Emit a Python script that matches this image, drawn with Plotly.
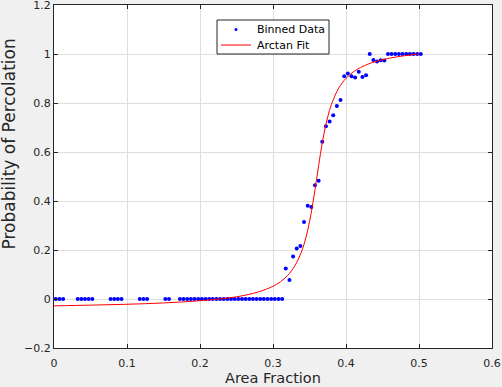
import plotly.graph_objects as go

# Binned data (bin centres, probability)
bin_x = [0.0025, 0.0075, 0.0125,
         0.0325, 0.0375, 0.0425, 0.0475, 0.0525,
         0.0775, 0.0825, 0.0875, 0.0925,
         0.1175, 0.1225, 0.1275,
         0.1525, 0.1575,
         0.1725, 0.1775, 0.1825, 0.1875, 0.1925, 0.1975, 0.2025, 0.2075, 0.2125, 0.2175,
         0.2225, 0.2275, 0.2325, 0.2375, 0.2425, 0.2475, 0.2525, 0.2575, 0.2625, 0.2675,
         0.2725, 0.2775, 0.2825, 0.2875, 0.2925, 0.2975, 0.3025, 0.3075, 0.3125,
         0.3175, 0.3225, 0.3275, 0.3325, 0.3375, 0.3425, 0.3475, 0.3525, 0.3575, 0.3625,
         0.3675, 0.3725, 0.3775, 0.3825, 0.3875, 0.3925, 0.3975, 0.4025, 0.4075, 0.4125,
         0.4175, 0.4225, 0.4275, 0.4325, 0.4375, 0.4425, 0.4475, 0.4525,
         0.4575, 0.4625, 0.4675, 0.4725, 0.4775, 0.4825, 0.4875, 0.4925, 0.4975, 0.5025]
bin_y = [0, 0, 0,
         0, 0, 0, 0, 0,
         0, 0, 0, 0,
         0, 0, 0,
         0, 0,
         0, 0, 0, 0, 0, 0, 0, 0, 0, 0,
         0, 0, 0, 0, 0, 0, 0, 0, 0, 0,
         0, 0, 0, 0, 0, 0, 0, 0, 0,
         0.124, 0.078, 0.173, 0.206, 0.216, 0.314, 0.381, 0.376, 0.464, 0.483,
         0.642, 0.705, 0.724, 0.750, 0.788, 0.812, 0.909, 0.920, 0.909, 0.904,
         0.928, 0.906, 0.913, 1.0, 0.976, 0.969, 0.974, 0.973,
         1.0, 1.0, 1.0, 1.0, 1.0, 1.0, 1.0, 1.0, 1.0, 1.0]

# Arctan fit curve
fit_x = [0, 0.05, 0.1, 0.15, 0.2, 0.25, 0.28, 0.3, 0.31, 0.32, 0.33, 0.34, 0.345,
         0.35, 0.355, 0.36, 0.365, 0.37, 0.375, 0.38, 0.39, 0.4, 0.41, 0.42,
         0.43, 0.44, 0.46, 0.48, 0.5]
fit_y = [-0.028, -0.025, -0.0215, -0.016, -0.007, 0.009, 0.029, 0.052, 0.070,
         0.096, 0.1355, 0.2006, 0.2496, 0.3147, 0.398, 0.495, 0.5927, 0.6774,
         0.7439, 0.7941, 0.8604, 0.9007, 0.9268, 0.9451, 0.9584, 0.9686,
         0.9831, 0.9929, 0.9999]

x_ticks = [0, 0.1, 0.2, 0.3, 0.4, 0.5, 0.6]
y_ticks = [-0.2, 0, 0.2, 0.4, 0.6, 0.8, 1, 1.2]

series_names = ["Binned Data", "Arctan Fit"]
BLUE = "#0000ff"
RED = "#ff0000"
INK = "#262626"
FONT = "DejaVu Sans"

fig = go.Figure()
fig.add_trace(go.Scatter(x=bin_x, y=bin_y, mode="markers", name=series_names[0],
                         marker=dict(color=BLUE, size=4), showlegend=False))
fig.add_trace(go.Scatter(x=fit_x, y=fit_y, mode="lines", name=series_names[1],
                         line=dict(color=RED, width=1, shape="spline"),
                         showlegend=False))

axis_common = dict(
    showline=True, linecolor=INK, linewidth=1, mirror="ticks",
    ticks="inside", ticklen=4, tickcolor=INK,
    showgrid=True, gridcolor="#dedede", gridwidth=1,
    zeroline=False, automargin=False, ticklabeloverflow="allow",
    tickfont=dict(family=FONT, size=11, color=INK),
)

W, H = 502, 387
L, R, T, B = 54, 10, 5, 39
pw, ph = W - L - R, H - T - B


def px_x(p):
    return (p - L) / pw


def px_y(p):
    return (H - B - p) / ph


# Manual MATLAB-style legend box
shapes = [
    dict(type="rect", xref="paper", yref="paper",
         x0=px_x(217), x1=px_x(329), y0=px_y(54), y1=px_y(20),
         line=dict(color=INK, width=1), fillcolor="#ffffff", layer="above"),
    dict(type="line", xref="paper", yref="paper",
         x0=px_x(221), x1=px_x(251), y0=px_y(45), y1=px_y(45),
         line=dict(color=RED, width=1), layer="above"),
    dict(type="circle", xref="paper", yref="paper",
         x0=px_x(234.5), x1=px_x(237.5), y0=px_y(31), y1=px_y(28),
         line=dict(color=BLUE, width=0), fillcolor=BLUE, layer="above"),
]
annotations = [
    dict(text=series_names[0], xref="paper", yref="paper", x=px_x(255), y=px_y(29.5),
         xanchor="left", yanchor="middle", showarrow=False,
         font=dict(family=FONT, size=11, color="#000000")),
    dict(text=series_names[1], xref="paper", yref="paper", x=px_x(255), y=px_y(45),
         xanchor="left", yanchor="middle", showarrow=False,
         font=dict(family=FONT, size=11, color="#000000")),
    dict(text="Probability of Percolation", xref="paper", yref="paper",
         x=px_x(8.5), y=px_y(144), xanchor="center", yanchor="middle",
         textangle=-90, showarrow=False,
         font=dict(family=FONT, size=17, color=INK)),
]

fig.update_layout(
    width=W, height=H,
    margin=dict(l=L, r=R, t=T, b=B),
    paper_bgcolor="#f0f0f0", plot_bgcolor="#ffffff",
    font=dict(family=FONT, color=INK),
    showlegend=False,
    shapes=shapes,
    annotations=annotations,
    xaxis=dict(range=[0, 0.6], tickvals=x_ticks, ticklabelstandoff=5,
               title=dict(text="Area Fraction", font=dict(size=14.5, color=INK), standoff=3),
               **axis_common),
    yaxis=dict(range=[-0.2, 1.2], tickvals=y_ticks, **axis_common),
)

fig.write_html("out.html", config={"displayModeBar": False},
               post_script="document.body.style.margin='0';document.body.style.overflow='hidden';")
